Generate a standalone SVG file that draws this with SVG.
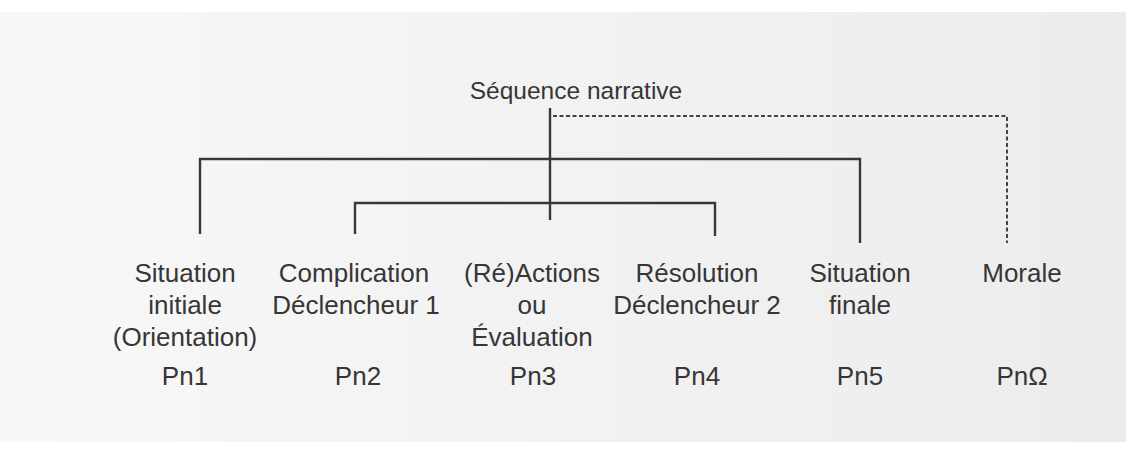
<svg xmlns="http://www.w3.org/2000/svg" width="1136" height="453" viewBox="0 0 1136 453">
<style>
text{font-family:"Liberation Sans",Arial,sans-serif;fill:#363636;text-anchor:middle}
.t{font-size:24.5px}
.l{font-size:26px}
.ln{stroke:#383838;stroke-width:2.4;fill:none}
.dash{stroke:#444;stroke-width:2;fill:none;stroke-dasharray:4 2.5}
</style>
<defs>
<linearGradient id="bg" x1="0" y1="0" x2="1" y2="0">
<stop offset="0" stop-color="#f8f8f8"/>
<stop offset="0.5" stop-color="#f2f2f2"/>
<stop offset="1" stop-color="#ececec"/>
</linearGradient>
</defs>
<rect width="1136" height="453" fill="#ffffff"/>
<rect x="0" y="12" width="1126" height="430" fill="url(#bg)"/>
<g id="connectors">
<line class="ln" x1="550" y1="108" x2="550" y2="220"/>
<polyline class="ln" points="200,234 200,159 860,159 860,243"/>
<polyline class="ln" points="355,234 355,203 715,203 715,236"/>
<polyline class="dash" points="553,116 1007,116 1007,243"/>
</g>
<g id="root"><text class="t" x="576" y="99">Séquence narrative</text></g>
<g id="pn1">
<text class="l" x="185" y="282">Situation</text>
<text class="l" x="185" y="314">initiale</text>
<text class="l" x="185" y="346">(Orientation)</text>
<text class="l" x="185" y="385">Pn1</text>
</g>
<g id="pn2">
<text class="l" x="354" y="282">Complication</text>
<text class="l" x="356" y="314">Déclencheur 1</text>
<text class="l" x="358" y="385">Pn2</text>
</g>
<g id="pn3">
<text class="l" x="532" y="282">(Ré)Actions</text>
<text class="l" x="532" y="314">ou</text>
<text class="l" x="532" y="346">Évaluation</text>
<text class="l" x="533" y="385">Pn3</text>
</g>
<g id="pn4">
<text class="l" x="697" y="282">Résolution</text>
<text class="l" x="697" y="314">Déclencheur 2</text>
<text class="l" x="697" y="385">Pn4</text>
</g>
<g id="pn5">
<text class="l" x="860" y="282">Situation</text>
<text class="l" x="860" y="314">finale</text>
<text class="l" x="860" y="385">Pn5</text>
</g>
<g id="pnomega">
<text class="l" x="1022" y="282">Morale</text>
<text class="l" x="1022" y="385">PnΩ</text>
</g>
</svg>
